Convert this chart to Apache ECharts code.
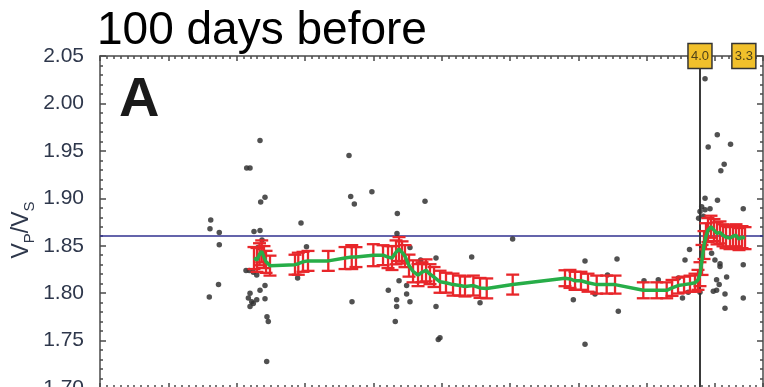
<!DOCTYPE html>
<html>
<head>
<meta charset="utf-8">
<script src="https://cdn.jsdelivr.net/npm/echarts@6/dist/echarts.min.js"></script>
<style>
html,body{margin:0;padding:0;background:#fff;}
#chart{width:764px;height:387px;}
</style>
</head>
<body>
<div id="chart"></div>
<script>
// ---- data (x: days in window, y: Vp/Vs) ----
const scatterX = [23.41,21.46,21.95,24.14,23.51,16.20,16.09,17.45,17.45,22.53,23.41,29.41,30.21,36.43,36.68,37.21,39.78,47.55,43.50,43.45,45.35,49.16,54.38,46.91,43.75,42.18,44.86,44.86,45.35,43.40,43.40,36.87,49.16,43.20,49.49,49.74,60.37,55.60,70.96,75.64,69.25,72.42,75.83,70.96,74.25,79.59,81.68,84.61,85.59,85.22,87.78,88.52,90.31,88.98,92.25,91.32,90.83,88.52,90.34,94.11,88.03,87.78,88.52,89.25,88.27,87.58,86.25,89.48,89.97,90.71,94.11,90.71,91.68,90.21,90.59,86.06,90.21,89.73,94.11,91.44,21.36,21.84,22.43,22.93,17.34,15.99,24.14,23.41,21.95,21.71,22.20,21.95,22.43,22.93,24.14,24.43,24.62,24.39,28.91,23.12,23.70,91.44];
const scatterY = [1.961,1.932,1.932,1.901,1.896,1.877,1.868,1.864,1.851,1.865,1.866,1.874,1.849,1.945,1.902,1.894,1.907,1.897,1.884,1.863,1.848,1.837,1.838,1.835,1.813,1.803,1.808,1.799,1.791,1.793,1.786,1.791,1.786,1.770,1.751,1.753,1.857,1.790,1.834,1.836,1.793,1.799,1.781,1.746,1.819,1.813,1.814,1.816,1.835,1.795,1.801,2.026,1.967,1.954,1.957,1.936,1.929,1.900,1.898,1.889,1.891,1.886,1.888,1.889,1.881,1.879,1.846,1.842,1.835,1.831,1.830,1.828,1.817,1.814,1.809,1.801,1.803,1.802,1.795,1.784,1.824,1.824,1.822,1.819,1.809,1.796,1.808,1.803,1.800,1.795,1.791,1.786,1.789,1.793,1.794,1.775,1.770,1.728,1.816,1.848,1.856,1.799];

const meanX = [22.53,22.97,23.34,23.66,23.99,24.29,24.87,28.53,29.01,29.70,30.43,33.40,35.85,36.83,37.45,39.99,41.41,42.14,42.72,43.31,43.75,44.19,44.62,45.21,45.80,46.53,47.11,47.70,48.28,48.87,49.75,50.62,51.65,52.67,53.40,54.62,55.60,56.58,60.38,68.03,68.76,69.50,70.37,71.40,72.67,74.13,75.35,79.49,81.45,82.91,83.69,84.57,85.45,86.32,87.05,87.49,87.78,88.08,88.37,88.66,88.95,89.39,89.83,90.27,90.71,91.15,91.59,92.17,92.61,93.05,93.49,93.93,94.37];
const meanY = [1.837,1.835,1.841,1.844,1.838,1.833,1.829,1.830,1.831,1.833,1.834,1.834,1.837,1.838,1.838,1.840,1.840,1.838,1.837,1.843,1.8465,1.843,1.839,1.829,1.823,1.819,1.822,1.824,1.820,1.817,1.812,1.811,1.809,1.808,1.807,1.808,1.8055,1.805,1.809,1.8157,1.815,1.813,1.813,1.811,1.809,1.809,1.809,1.803,1.803,1.803,1.8055,1.808,1.809,1.810,1.811,1.814,1.820,1.835,1.8507,1.860,1.8665,1.870,1.8665,1.863,1.864,1.861,1.859,1.858,1.860,1.861,1.857,1.859,1.858];
const meanErr = [0.0116,0.0126,0.0116,0.0116,0.0116,0.0116,0.0105,0.0105,0.0116,0.0105,0.0105,0.0105,0.0116,0.0126,0.0105,0.0116,0.0105,0.0116,0.0126,0.0126,0.0126,0.0116,0.0116,0.0116,0.0116,0.0116,0.0105,0.0116,0.0105,0.0105,0.0116,0.0105,0.0116,0.0105,0.0105,0.0105,0.0105,0.0105,0.0105,0.0084,0.0095,0.0095,0.0095,0.0095,0.0095,0.0095,0.0095,0.0084,0.0084,0.0084,0.0084,0.0084,0.0084,0.0084,0.0095,0.0105,0.0126,0.0158,0.0147,0.0137,0.0126,0.0116,0.0116,0.0116,0.0116,0.0116,0.0116,0.0116,0.0116,0.0116,0.0116,0.0116,0.0116];

const refLevel = 1.86;
const eventX = 87.78;
const boxX = [87.78, 94.2];
const boxLabels = ['4.0', '3.3'];
const titleText = '100 days before';
const panelLetter = 'A';

const chart = echarts.init(document.getElementById('chart'), null, {renderer: 'canvas'});

const axisCommonX = {
  type: 'value', min: 0, max: 97, interval: 10,
  axisLine: {show: true, onZero: false, lineStyle: {color: '#4a4a4a', width: 1.5}},
  axisTick: {show: true, inside: true, length: 5, lineStyle: {color: '#4a4a4a', width: 1.5}},
  minorTick: {show: true, splitNumber: 10, length: 3, lineStyle: {color: '#4a4a4a', width: 1.5}},
  axisLabel: {show: false},
  splitLine: {show: false}, minorSplitLine: {show: false}
};
const axisCommonY = {
  type: 'value', min: 1.70, max: 2.05, interval: 0.05,
  axisLine: {show: true, onZero: false, lineStyle: {color: '#4a4a4a', width: 1.5}},
  axisTick: {show: true, inside: true, length: 6, lineStyle: {color: '#4a4a4a', width: 1.5}},
  minorTick: {show: true, splitNumber: 5, length: 3, lineStyle: {color: '#4a4a4a', width: 1.5}},
  splitLine: {show: false}, minorSplitLine: {show: false}
};

const option = {
  animation: false,
  backgroundColor: '#ffffff',
  grid: {left: 100, top: 56, width: 663, height: 332, outerBoundsMode: 'none', containLabel: false},
  xAxis: [
    Object.assign({}, axisCommonX, {position: 'bottom'}),
    Object.assign({}, axisCommonX, {position: 'top'})
  ],
  yAxis: [
    Object.assign({}, axisCommonY, {position: 'left',
      axisLabel: {show: true, margin: 16, color: '#2e374b', fontSize: 21,
        fontFamily: 'Liberation Sans, Arial, sans-serif', padding: [5, 0, 0, 0],
        formatter: v => v.toFixed(2)}}),
    Object.assign({}, axisCommonY, {position: 'right', axisLabel: {show: false}})
  ],
  graphic: [
    {type: 'text', left: 97, top: 8, z: 10,
      style: {text: titleText, fontSize: 46, fontFamily: 'Liberation Sans, Arial, sans-serif', fill: '#000'}},
    {type: 'text', left: 119, top: 73, z: 10,
      style: {text: panelLetter, fontSize: 56, fontWeight: 'bold', fontFamily: 'Liberation Sans, Arial, sans-serif', fill: '#1a1a1a'}},
    {type: 'text', x: 22, y: 230, rotation: Math.PI / 2, z: 10,
      style: {text: '{v|V}{s|P}{v|/V}{s|S}', align: 'center', verticalAlign: 'middle',
        rich: {
          v: {fontSize: 23, lineHeight: 30, fontFamily: 'Liberation Sans, Arial, sans-serif', fill: '#2e374b', color: '#2e374b'},
          s: {fontSize: 15, lineHeight: 30, verticalAlign: 'bottom', fontFamily: 'Liberation Sans, Arial, sans-serif', fill: '#2e374b', color: '#2e374b'}
        }}}
  ],
  series: [
    {
      type: 'scatter', name: 'events', z: 2,
      data: scatterX.map((x, i) => [x, scatterY[i]]),
      symbol: 'circle', symbolSize: 5.5,
      itemStyle: {color: '#333', opacity: 0.85},
      markLine: {
        silent: true, symbol: 'none', z: 1,
        label: {show: false},
        data: [
          [{coord: [0, refLevel]}, {coord: [97, refLevel]}],
          [{coord: [eventX, 2.05]}, {coord: [eventX, 1.70]}]
        ],
        lineStyle: {type: 'solid'}
      },
      markPoint: {
        silent: true, z: 10,
        symbol: 'rect', symbolSize: [24, 25],
        itemStyle: {color: '#f1c02b', borderColor: '#333', borderWidth: 1.5},
        label: {show: true, position: 'inside', formatter: p => p.name, fontSize: 13,
          color: '#4f4218', fontFamily: 'Liberation Sans, Arial, sans-serif'},
        data: boxX.map((x, i) => ({name: boxLabels[i], coord: [x, 2.05]}))
      }
    },
    {
      type: 'custom', name: 'err', z: 3,
      data: meanX.map((x, i) => [x, meanY[i], meanErr[i]]),
      renderItem: function (params, api) {
        const x = api.value(0), y = api.value(1), e = api.value(2);
        const t = api.coord([x, y + e]);
        const b = api.coord([x, y - e]);
        const hw = 6.5;
        const st = {stroke: '#e8262a', lineWidth: 2.3};
        return {type: 'group', children: [
          {type: 'line', shape: {x1: t[0], y1: t[1], x2: b[0], y2: b[1]}, style: st},
          {type: 'line', shape: {x1: t[0] - hw, y1: t[1], x2: t[0] + hw, y2: t[1]}, style: st},
          {type: 'line', shape: {x1: b[0] - hw, y1: b[1], x2: b[0] + hw, y2: b[1]}, style: st}
        ]};
      }
    },
    {
      type: 'line', name: 'mean', z: 4,
      data: meanX.map((x, i) => [x, meanY[i]]),
      showSymbol: false, symbol: 'none',
      lineStyle: {color: '#27ad48', width: 3.5}
    }
  ]
};
// line styles for the two mark lines
option.series[0].markLine.data[0][0].lineStyle = {color: '#30308f', width: 1.5, type: 'solid'};
option.series[0].markLine.data[1][0].lineStyle = {color: '#3a3a3a', width: 2, type: 'solid'};
chart.setOption(option);
</script>
</body>
</html>
